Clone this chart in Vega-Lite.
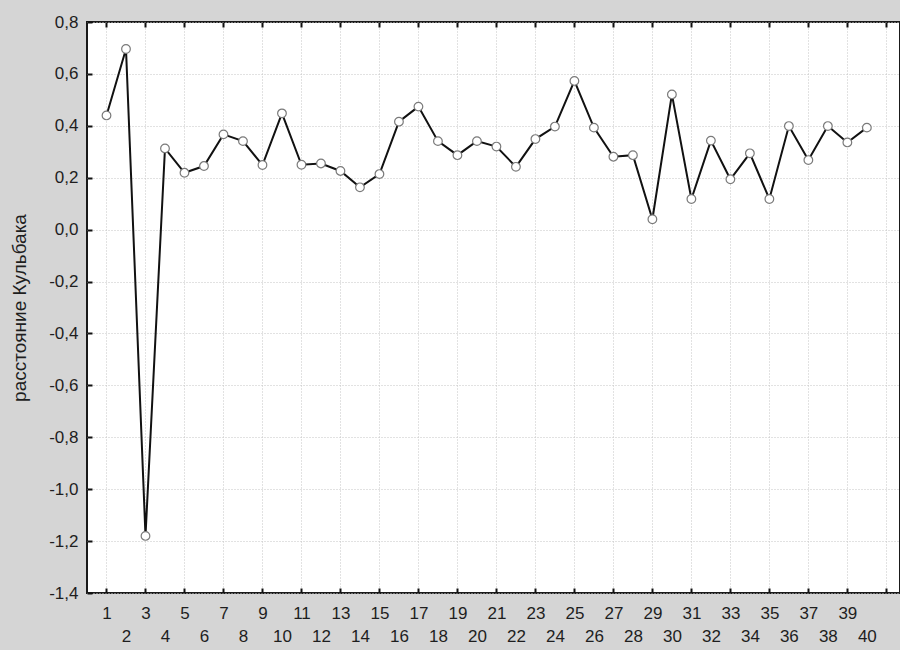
{
  "$schema": "https://vega.github.io/schema/vega-lite/v6.json",
  "width": 813,
  "height": 571,
  "autosize": {"type": "none"},
  "padding": {"left": 87, "top": 22, "right": 0, "bottom": 57},
  "background": "#d5d5d5",
  "config": {
    "view": {"fill": "white", "stroke": "#1a1a1a", "strokeWidth": 2},
    "axis": {"labelFont": "Liberation Sans", "titleFont": "Liberation Sans", "labelColor": "#1e1e1e", "titleColor": "#1e1e1e", "domain": false}
  },
  "data": {
    "values": [
      {"n": 1, "d": 0.44}, {"n": 2, "d": 0.696}, {"n": 3, "d": -1.18}, {"n": 4, "d": 0.313},
      {"n": 5, "d": 0.219}, {"n": 6, "d": 0.245}, {"n": 7, "d": 0.367}, {"n": 8, "d": 0.341},
      {"n": 9, "d": 0.249}, {"n": 10, "d": 0.448}, {"n": 11, "d": 0.25}, {"n": 12, "d": 0.255},
      {"n": 13, "d": 0.226}, {"n": 14, "d": 0.163}, {"n": 15, "d": 0.214}, {"n": 16, "d": 0.416},
      {"n": 17, "d": 0.474}, {"n": 18, "d": 0.341}, {"n": 19, "d": 0.287}, {"n": 20, "d": 0.341},
      {"n": 21, "d": 0.32}, {"n": 22, "d": 0.242}, {"n": 23, "d": 0.349}, {"n": 24, "d": 0.397},
      {"n": 25, "d": 0.573}, {"n": 26, "d": 0.393}, {"n": 27, "d": 0.281}, {"n": 28, "d": 0.287},
      {"n": 29, "d": 0.04}, {"n": 30, "d": 0.521}, {"n": 31, "d": 0.118}, {"n": 32, "d": 0.343},
      {"n": 33, "d": 0.194}, {"n": 34, "d": 0.294}, {"n": 35, "d": 0.118}, {"n": 36, "d": 0.399},
      {"n": 37, "d": 0.268}, {"n": 38, "d": 0.399}, {"n": 39, "d": 0.336}, {"n": 40, "d": 0.393}
    ]
  },
  "layer": [
    {
      "mark": {"type": "line", "color": "#111111", "strokeWidth": 2},
      "encoding": {
        "x": {
          "field": "n", "type": "quantitative",
          "scale": {"domain": [0, 41.7], "nice": false, "zero": false},
          "axis": {
            "orient": "bottom",
            "title": null,
            "values": [1,2,3,4,5,6,7,8,9,10,11,12,13,14,15,16,17,18,19,20,21,22,23,24,25,26,27,28,29,30,31,32,33,34,35,36,37,38,39,40,41],
            "labelExpr": "datum.value > 40 ? '' : datum.label",
            "labelOverlap": false,
            "labelFontSize": 17,
            "labelPadding": {"condition": {"test": "datum.value % 2 == 0", "value": 40}, "value": 17},
            "tickSize": -5,
            "tickColor": "#111111",
            "tickWidth": 2,
            "tickOpacity": {"condition": {"test": "datum.value % 2 == 1", "value": 1}, "value": 0},
            "grid": true,
            "gridColor": "#c4c4c4",
            "gridDash": [1, 2],
            "gridWidth": 1,
            "gridOpacity": {"condition": {"test": "datum.value % 2 == 1", "value": 1}, "value": 0}
          }
        },
        "y": {
          "field": "d", "type": "quantitative",
          "scale": {"domain": [-1.4, 0.8], "nice": false, "zero": false},
          "axis": {
            "title": "расстояние Кульбака",
            "titleFontSize": 19,
            "titleFontWeight": "normal",
            "titlePadding": 19,
            "values": [-1.4,-1.2,-1.0,-0.8,-0.6,-0.4,-0.2,0,0.2,0.4,0.6,0.8],
            "labelExpr": "(datum.value < -0.001 ? '-' : '') + replace(format(abs(datum.value), '.1f'), '.', ',')",
            "labelFontSize": 17,
            "labelPadding": 14,
            "tickSize": -5,
            "tickColor": "#111111",
            "tickWidth": 2,
            "grid": true,
            "gridColor": "#c4c4c4",
            "gridDash": [1, 2],
            "gridWidth": 1
          }
        }
      }
    },
    {
      "mark": {"type": "point", "shape": "circle", "filled": true, "fill": "white", "stroke": "#7a7a7a", "strokeWidth": 1.2, "size": 75, "opacity": 1},
      "encoding": {
        "x": {
          "field": "n", "type": "quantitative",
          "axis": {
            "orient": "top",
            "title": null,
            "values": [1,3,5,7,9,11,13,15,17,19,21,23,25,27,29,31,33,35,37,39,41],
            "labels": false,
            "tickSize": -5,
            "tickColor": "#111111",
            "tickWidth": 2,
            "grid": false
          }
        },
        "y": {"field": "d", "type": "quantitative", "axis": null}
      }
    }
  ],
  "resolve": {"axis": {"x": "independent", "y": "independent"}}
}
